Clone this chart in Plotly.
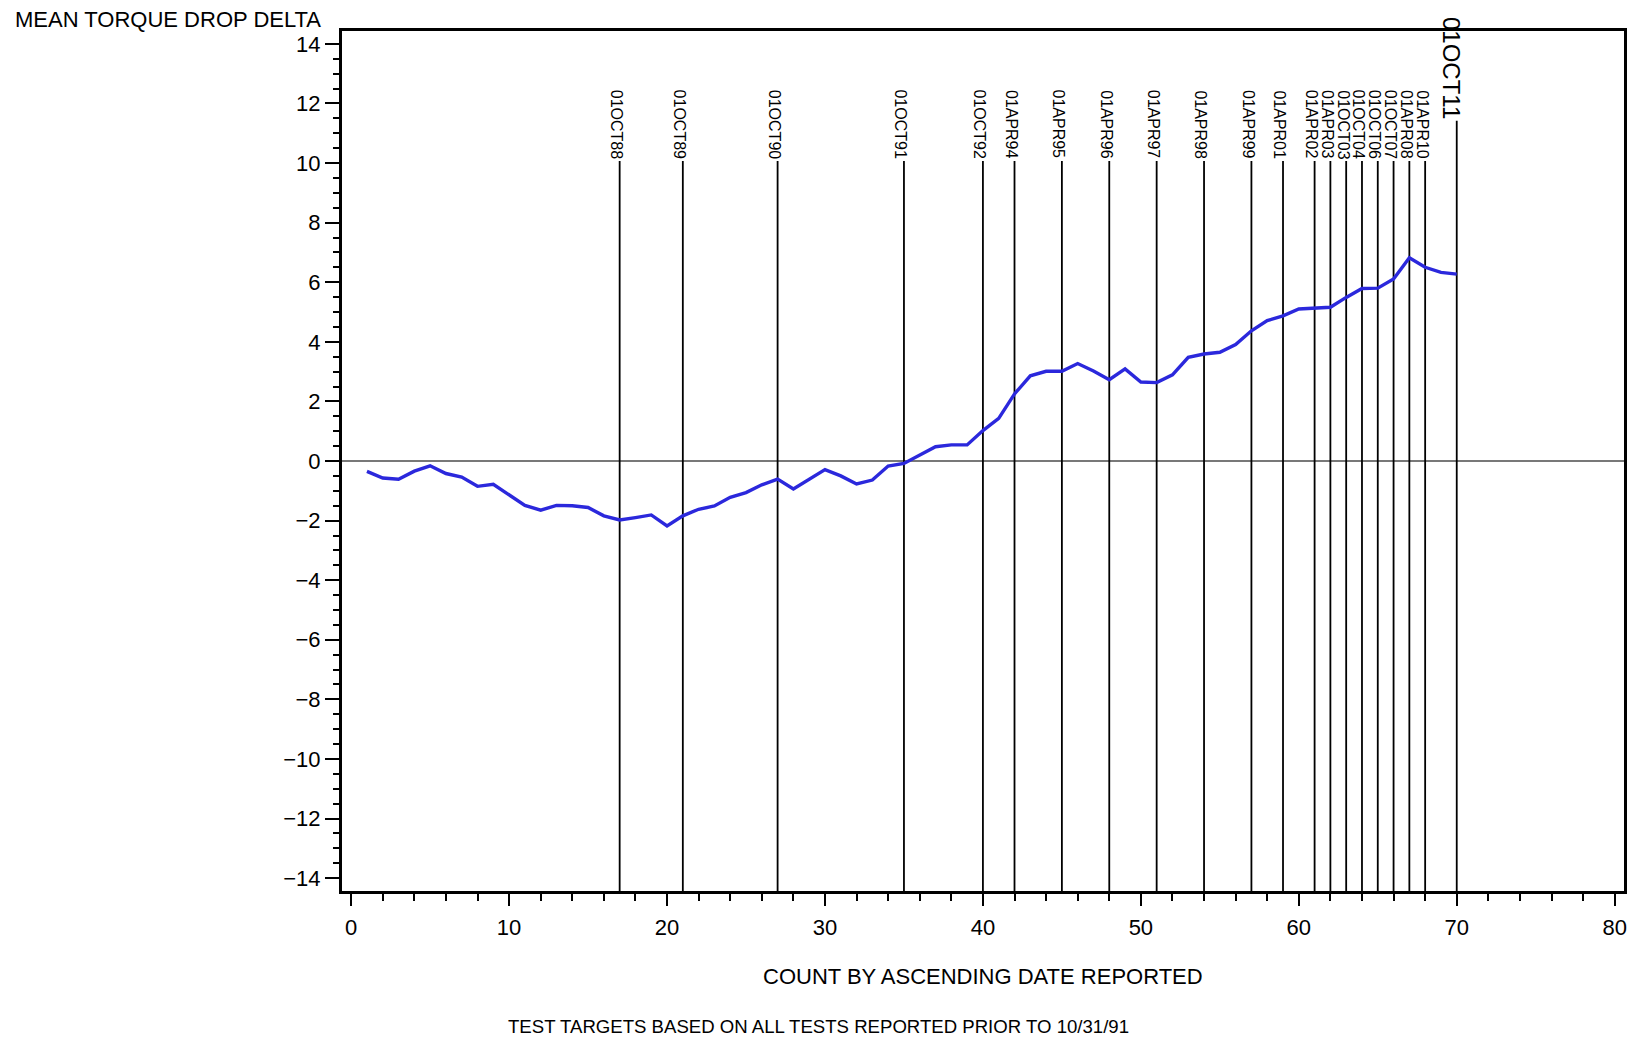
import plotly.graph_objects as go

# ---- data ----
counts = list(range(1, 71))
mean_delta = [
    -0.35, -0.57, -0.61, -0.34, -0.16, -0.42, -0.54, -0.85, -0.78, -1.12,
    -1.49, -1.65, -1.49, -1.50, -1.56, -1.84, -1.98, -1.90, -1.81, -2.18,
    -1.84, -1.62, -1.51, -1.22, -1.06, -0.80, -0.61, -0.94, -0.60, -0.29,
    -0.50, -0.77, -0.64, -0.17, -0.08, 0.20, 0.48, 0.54, 0.54, 1.02,
    1.43, 2.25, 2.86, 3.01, 3.01, 3.27, 3.02, 2.73, 3.09, 2.65,
    2.63, 2.89, 3.48, 3.59, 3.65, 3.91, 4.37, 4.71, 4.87, 5.10,
    5.13, 5.16, 5.49, 5.79, 5.80, 6.11, 6.82, 6.50, 6.33, 6.27,
]
event_x = [17, 21, 27, 35, 40, 42, 45, 48, 51, 54, 57, 59, 61, 62, 63, 64, 65, 66, 67, 68, 70]
event_labels = ["01OCT88", "01OCT89", "01OCT90", "01OCT91", "01OCT92", "01APR94", "01APR95",
                "01APR96", "01APR97", "01APR98", "01APR99", "01APR01", "01APR02", "01APR03",
                "01OCT03", "01OCT04", "01OCT06", "01OCT07", "01APR08", "01APR10", "01OCT11"]
y_title = "MEAN TORQUE DROP DELTA"
x_title = "COUNT BY ASCENDING DATE REPORTED"
caption = "TEST TARGETS BASED ON ALL TESTS REPORTED PRIOR TO 10/31/91"

# ---- style ----
FONT = "Liberation Sans, Arial, sans-serif"
Y_MIN, Y_MAX = -14.43, 14.43
X_MIN, X_MAX = -0.58, 80.59
TOP_SMALL = 10.07
TOP_BIG = 11.42

fig = go.Figure()

# vertical event lines
vx, vy = [], []
for i, xv in enumerate(event_x):
    top = TOP_BIG if i == len(event_x) - 1 else TOP_SMALL
    vx += [xv, xv, None]
    vy += [Y_MIN, top, None]
fig.add_trace(go.Scatter(x=vx, y=vy, mode="lines",
                         line=dict(color="black", width=1.8),
                         hoverinfo="skip", showlegend=False, cliponaxis=False))

fig.add_trace(go.Scatter(x=counts, y=mean_delta, mode="lines",
                         line=dict(color="rgb(43,40,220)", width=3.4),
                         showlegend=False))

annotations = []
for i, (xv, lab) in enumerate(zip(event_x, event_labels)):
    big = i == len(event_x) - 1
    annotations.append(dict(
        x=xv, y=TOP_BIG if big else TOP_SMALL, xref="x", yref="y",
        text=lab, textangle=90, showarrow=False,
        xanchor="center", yanchor="bottom",
        xshift=-5 if big else -3, yshift=0,
        font=dict(family=FONT, size=24 if big else 16, color="black"),
    ))

annotations.append(dict(x=0, y=1, xref="paper", yref="paper", text=y_title,
                        showarrow=False, xanchor="left", yanchor="middle",
                        xshift=-329, yshift=12,
                        font=dict(family=FONT, size=22, color="black")))
annotations.append(dict(x=0.5, y=0, xref="paper", yref="paper", text=x_title,
                        showarrow=False, xanchor="center", yanchor="middle",
                        yshift=-85,
                        font=dict(family=FONT, size=22, color="black")))
annotations.append(dict(x=0.3714, y=0, xref="paper", yref="paper", text=caption,
                        showarrow=False, xanchor="center", yanchor="middle",
                        yshift=-135,
                        font=dict(family=FONT, size=18.6, color="black")))

# the page body has an 8px margin, so the figure is sized to fit the window
fig.update_layout(
    width=1629, height=1031,
    margin=dict(l=334, r=10, t=23, b=148),
    paper_bgcolor="white", plot_bgcolor="white",
    annotations=annotations,
    font=dict(family=FONT, color="black"),
)

fig.update_xaxes(
    range=[X_MIN, X_MAX], showgrid=False, zeroline=False,
    tickmode="linear", tick0=0, dtick=10,
    ticks="outside", ticklen=12, tickwidth=2, tickcolor="black",
    minor=dict(dtick=2, tick0=0, ticks="outside", ticklen=7, tickwidth=2, tickcolor="black"),
    showline=True, linewidth=3, linecolor="black", mirror=True,
    tickfont=dict(family=FONT, size=22, color="black"),
    ticklabelstandoff=3,
)
fig.update_yaxes(
    range=[Y_MIN, Y_MAX], showgrid=False,
    zeroline=True, zerolinecolor="rgb(120,120,120)", zerolinewidth=2,
    tickmode="linear", tick0=0, dtick=2,
    ticks="outside", ticklen=14, tickwidth=2, tickcolor="black",
    minor=dict(dtick=0.5, tick0=0, ticks="outside", ticklen=6, tickwidth=2, tickcolor="black"),
    showline=True, linewidth=3, linecolor="black", mirror=True,
    tickfont=dict(family=FONT, size=22, color="black"),
)

fig.write_html("out.html")
